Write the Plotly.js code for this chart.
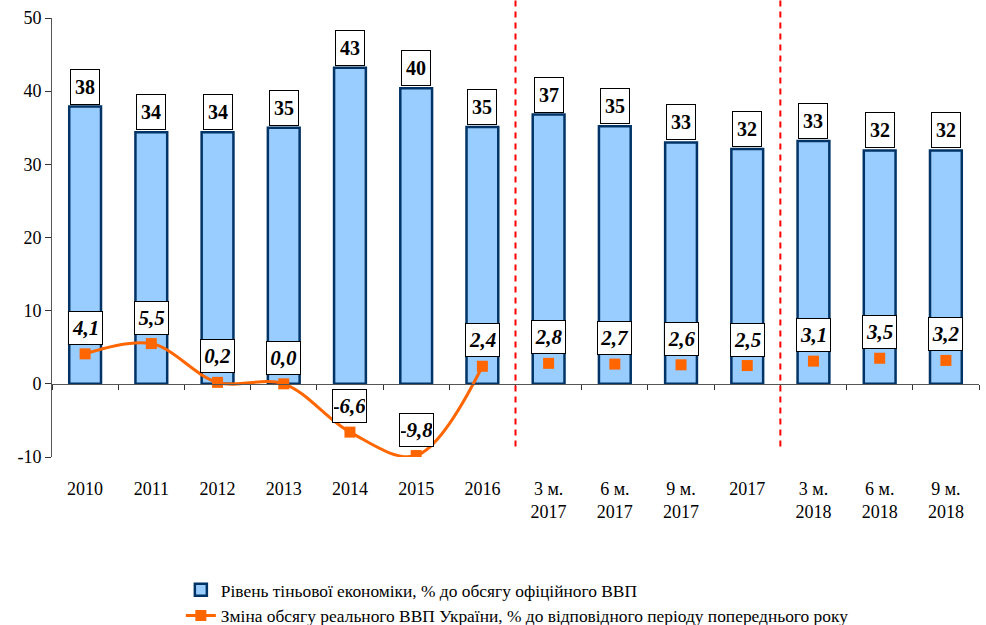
<!DOCTYPE html>
<html>
<head>
<meta charset="utf-8">
<script src="https://cdn.plot.ly/plotly-3.0.1.min.js"></script>
<style>html,body{margin:0;padding:0;background:#fff;}#chart{width:986px;height:625px;}</style>
</head>
<body>
<div id="chart"></div>
<script>
const categories = ['2010','2011','2012','2013','2014','2015','2016','3 м.<br>2017','6 м.<br>2017','9 м.<br>2017','2017','3 м.<br>2018','6 м.<br>2018','9 м.<br>2018'];
const shadowEconomy = [37.9, 34.4, 34.4, 35.0, 43.2, 40.4, 35.1, 36.8, 35.2, 33.0, 32.1, 33.2, 31.9, 31.9];
const gdpChange = [4.1, 5.5, 0.2, 0.0, -6.6, -9.8, 2.4, 2.8, 2.7, 2.6, 2.5, 3.1, 3.5, 3.2];
const yTickValues = [-10, 0, 10, 20, 30, 40, 50];
const yTickLabels = ['-10', '0', '10', '20', '30', '40', '50'];
const dividerBefore = [7, 11];
const annualCount = 7;
const seriesNames = ['Рівень тіньової економіки, % до обсягу офіційного ВВП', 'Зміна обсягу реального ВВП України, % до відповідного періоду попереднього року'];

const FONT = "'Liberation Serif', 'Times New Roman', serif";
const ORANGE = '#FF6600';

const traces = [
  {
    type: 'bar', x: categories, y: shadowEconomy, name: seriesNames[0],
    width: 0.48,
    marker: {color: '#99CCFF', line: {color: '#003366', width: 2.5}},
    hoverinfo: 'skip'
  },
  {
    type: 'scatter', mode: 'lines+markers',
    x: categories.slice(0, annualCount), y: gdpChange.slice(0, annualCount),
    name: seriesNames[1],
    line: {color: ORANGE, width: 3, shape: 'spline', smoothing: 1},
    marker: {symbol: 'square', size: 11, color: ORANGE},
    hoverinfo: 'skip'
  },
  {
    type: 'scatter', mode: 'markers',
    x: categories.slice(annualCount), y: gdpChange.slice(annualCount),
    showlegend: false,
    marker: {symbol: 'square', size: 11, color: ORANGE},
    hoverinfo: 'skip'
  }
];

const annotations = [];
categories.forEach((c, i) => {
  annotations.push({
    x: i, y: shadowEconomy[i], xref: 'x', yref: 'y',
    text: '<b>' + Math.round(shadowEconomy[i]) + '</b>',
    showarrow: false, yanchor: 'bottom', yshift: 2,
    width: 26, height: 32,
    bgcolor: '#fff', bordercolor: '#000', borderwidth: 1, borderpad: 1,
    font: {family: FONT, size: 20, color: '#000'}
  });
  annotations.push({
    x: i, y: gdpChange[i], xref: 'x', yref: 'y',
    text: '<b><i>' + gdpChange[i].toFixed(1).replace('.', ',') + '</i></b>',
    showarrow: false, yanchor: 'bottom', yshift: 9,
    width: 31, height: 30,
    bgcolor: '#fff', bordercolor: '#000', borderwidth: 1, borderpad: 1,
    font: {family: FONT, size: 21, color: '#000'}
  });
});

const shapes = dividerBefore.map(idx => ({
  type: 'line', xref: 'x', yref: 'paper',
  x0: idx - 0.5, x1: idx - 0.5, y0: 0.024, y1: 1.041,
  line: {color: '#FF0000', width: 2, dash: '6px,5px'}
}));

const layout = {
  width: 986, height: 625,
  margin: {l: 52, r: 7, t: 18, b: 168, autoexpand: false},
  paper_bgcolor: '#fff', plot_bgcolor: '#fff',
  font: {family: FONT, color: '#000', size: 18},
  showlegend: true,
  bargap: 0.5,
  xaxis: {
    type: 'category', automargin: false,
    anchor: 'free', position: 0.1663,
    showline: true, linecolor: '#555', linewidth: 1,
    ticks: 'outside', tickson: 'boundaries', ticklen: 5, tickcolor: '#333',
    ticklabelstandoff: 88,
    tickfont: {family: FONT, size: 18, color: '#000'},
    showgrid: false, zeroline: false,
    range: [-0.5, categories.length - 0.5]
  },
  yaxis: {
    range: [-10, 50], automargin: false,
    tickmode: 'array', tickvals: yTickValues, ticktext: yTickLabels,
    showline: true, linecolor: '#555', linewidth: 1,
    ticks: 'outside', ticklen: 6, tickcolor: '#333',
    tickfont: {family: FONT, size: 18, color: '#000'},
    showgrid: false, zeroline: false
  },
  legend: {
    orientation: 'v',
    x: 0.139, xanchor: 'left', y: -0.262, yanchor: 'top',
    font: {family: FONT, size: 17.4, color: '#000'},
    itemwidth: 30, tracegroupgap: 0, bgcolor: 'rgba(0,0,0,0)'
  },
  annotations: annotations,
  shapes: shapes
};

Plotly.newPlot('chart', traces, layout, {displayModeBar: false, staticPlot: true});
</script>
</body>
</html>
